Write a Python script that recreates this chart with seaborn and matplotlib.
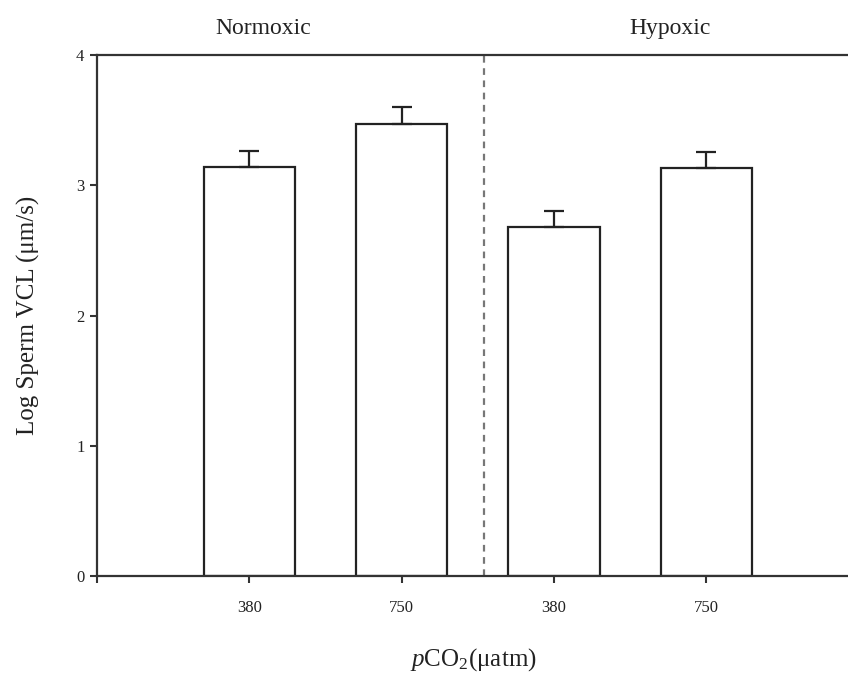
import matplotlib
matplotlib.use("Agg")
import matplotlib.pyplot as plt
import seaborn as sns
import pandas as pd

groups = ["Normoxic", "Normoxic", "Hypoxic", "Hypoxic"]
pco2 = ["380", "750", "380", "750"]
vcl_mean = [3.14, 3.47, 2.68, 3.13]
vcl_se = [0.12, 0.13, 0.12, 0.125]

df = pd.DataFrame({"cond": [f"{g} {p}" for g, p in zip(groups, pco2)],
                   "vcl": vcl_mean})

sns.set_theme(style="ticks")
plt.rcParams["font.family"] = ["Liberation Serif", "DejaVu Serif"]
plt.rcParams["mathtext.fontset"] = "custom"
plt.rcParams["mathtext.rm"] = "Liberation Serif"
plt.rcParams["mathtext.it"] = "Liberation Serif:italic"

fig = plt.figure(figsize=(8.48, 6.83), dpi=100)
ax = fig.add_axes([97 / 848, 1 - 576 / 683, 1 - 97 / 848 + 0.002, (576 - 55) / 683])

sns.barplot(data=df, x="cond", y="vcl", order=list(df["cond"]), color="white",
            edgecolor="#222222", linewidth=1.6, width=0.6, errorbar=None, ax=ax)
ax.errorbar(range(len(vcl_mean)), vcl_mean, yerr=[[0] * len(vcl_se), vcl_se],
            fmt="none", ecolor="#222222", elinewidth=1.6, capsize=7, capthick=1.6)

ax.axvline(1.54, ymin=0, ymax=1, color="#777777", linestyle=(0, (3, 2.5)), linewidth=1.6)

ax.set_xlim(-1.0, 3.94)
ax.set_ylim(0, 4)
ax.set_yticks([0, 1, 2, 3, 4])
ax.set_xticks([-1, 0, 1, 2, 3])
ax.set_xticklabels([""] + pco2)
ax.tick_params(axis="both", direction="out", length=5, width=1.5, color="#333333",
               labelsize=12, labelcolor="#222222", pad=4)
ax.tick_params(axis="x", pad=12)

for s in ["left", "bottom", "top"]:
    ax.spines[s].set_visible(True)
    ax.spines[s].set_linewidth(1.6)
    ax.spines[s].set_color("#333333")
ax.spines["right"].set_visible(False)

ax.set_xlabel(r"$\mathit{p}$CO$_2$(μatm)", fontsize=18, color="#222222", labelpad=22)
ax.set_ylabel("Log Sperm VCL (μm/s)", fontsize=18, color="#222222", labelpad=26)

ax.text(0.09, 1.03, "Normoxic", transform=ax.get_xaxis_transform(), ha="center", va="bottom",
        fontsize=17, color="#222222")
ax.text(2.76, 1.03, "Hypoxic", transform=ax.get_xaxis_transform(), ha="center", va="bottom",
        fontsize=17, color="#222222")

fig.savefig("out.png", dpi=100)
